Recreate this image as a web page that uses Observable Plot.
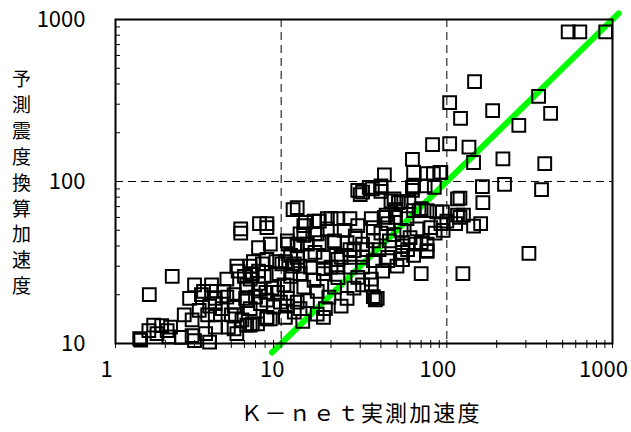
<!DOCTYPE html>
<html>
<head>
<meta charset="utf-8">
<script src="https://cdn.jsdelivr.net/npm/d3@7"></script>
<script src="https://cdn.jsdelivr.net/npm/@observablehq/plot@0.6"></script>
<style>
  html, body { margin: 0; padding: 0; background: #fff; }
  #chart svg { display: block; }
</style>
</head>
<body>
<div id="chart"></div>
<script>
// K-net measured acceleration (x) vs predicted acceleration from seismic intensity (y)
const obs = [
  [540,840],[635,840],[910,840],
  [147,414],[104,307],[189,274],[358,335],[423,263],[121,245],[272,222],
  [104,171],[82,169],[136,163],[145,131],[218,138],[390,129],
  [92,114],[164,93],[223,96],[373,89],[120,79],[165,74],
  [94,65],[126,62],[113,55],[145,53],[160,55],[92,55],[313,36],[125,27],
  [62,137],[42,110],[63,114],[76,112],[83,112],[91,114],[62,92],[40,92],[29,88],[34,92],
  [84,92],[30,83],[40,87],[48,78],[53,75],[59,75],[62,88],
  [87,65],[49,67],[63,66],[70,68],[11.8,67],[14,56],[17,57],[20,59],[26,59],[35,59],[43,62],[100,57],[120,60],
  [5.7,51],[7.4,55],[8.2,55],[5.7,48],[8.2,52],[7.3,39],
  [2.2,26],[5.4,30],[6.5,30],[11,41],[7.7,31],[9.3,32],[10.6,32],[12,31],
  [31,86],[35.5,90],[40,94],[63,94],[74,94],[51,74],[46,76],[68,66],[76,66],[116,78],[116,62],
  [57.5,59],[49,60],[42,60],[22,59],[19,59],[12.5,69],[15.8,57],[13.7,53.5],[13,47.5],[16,47.5],
  [19,51],[24,50],[29,53.5],[36,52],[44,55],[53,50],[66,51],[80,52],[76,41],[65,41],[54,42],
  [45,43],[36,43],[31,41],[25,42],[21,42],[17,42],[14.4,41],[12.5,41],[12.5,34],[15,35],[18,34],
  [22,33],[26,34],[31,34],[36,32.5],[44,34],[54,33],[76,37.5],[31,29.6],[26,29.6],[22,29.6],[18,29],
  [15,29.6],[13,30],
  [13.5,13.7],[18,14.5],[23,17],[37,18.6],[36,19.5],[70,27],[76,37],[63,35],[54,40],[54,36.5],
  [44,32.5],[41,28],[35,23],[29,25.6],[27.5,22],[25,19],[19.4,19.3],[18.5,16.4],[16.5,15.2],
  [12.5,18],[10.6,14.5],[8.6,14.2],[13,16.4],[14.4,18.4],[50,30],[38,19],[35,25],[31,23],[12,15.6],
  [6.8,32],[8.2,33],[10.1,31],[11.4,35],[12.5,40],[16,36.5],[11.7,30],[13,27],[15.8,24.5],[20,29.6],
  [23,34],[27.5,37.5],[21,43],[16.5,47.5],[13.7,46.5],[10.9,43],[8.6,41],[7.3,28],[6,26],[6.2,22],
  [7.5,21.7],[9.5,20.7],[10.9,22.8],[13.7,22.3],[16.5,21],[21,22.3],[22,25.5],[18,27],[10.9,19],
  [9,16.8],[7.5,17.6],[6.2,18.4],[4.7,19.3],[4,17.6],[8.2,14.5],[6.5,13],[5.2,12.3],
  [1.6,20],[3,23],[3.8,23],[4.7,25],[5.5,28],[6.7,27],[7.9,26],[9.7,27],[11.4,26],[6.2,23],
  [7.3,23.5],[8.8,22],[10.4,23],[2.8,19],[3.3,20],[3.8,21],[4.5,21],[5.2,20],[6.1,19],[7,19.3],
  [8.2,18.5],[9.9,18],[3.2,16],[3.7,17],[4.4,16.4],[5.2,17],[2.6,15],[2.9,14],[3.6,15],[4,15],
  [5,15],[5.8,14],[6.7,13.2],[8.2,14.2],[4,12.6],[4.8,12.6],[3.5,11.5],[2.9,11.2],[2.5,10.9],
  [1.4,10.7],[1.7,13],[1.9,12.9],[2.15,12.6],[1.59,12],[2.05,12],[1.78,11.5],[3.7,10.2],[3,10.4],
  [2.1,11],[6.5,16.4],[5.3,15],[5.4,11.5],[6.2,13],[7.2,13.2],[4,19],[3.4,21],[6.5,25],[8.1,20.7],
  [10.9,17],[1.42,10.5],
  [60,45],[70,42],[58,38],[48,47],[85,48],[95,50],[40,48],[28,46],[33,38],[26,38],[39,38]
];

const diagonal = [8.8, 1090];          // 1:1 line extent
const xTickValues = [1, 10, 100, 1000];
const yTickValues = [10, 100, 1000];
const xGrid = [10, 100];
const yGrid = [100];
const minorX = [1,2,3,4,5,6,7,8,9,10,20,30,40,50,60,70,80,90,100,200,300,400,500,600,700,800,900,1000];
const minorY = [10,20,30,40,50,60,70,80,90,100,200,300,400,500,600,700,800,900,1000];
const xTitle = "Ｋ－ｎｅｔ実測加速度";
const yTitle = "予測震度換算加速度";

const W = 631, H = 432, ML = 115, MR = 19, MT = 19, MB = 89;
const FW = W - ML - MR, FH = H - MT - MB;
const font = "'Noto Sans CJK JP', 'Noto Sans', sans-serif";

const chart = Plot.plot({
  width: W, height: H,
  marginLeft: ML, marginRight: MR, marginTop: MT, marginBottom: MB,
  x: {type: "log", domain: [1, 1000]},
  y: {type: "log", domain: [10, 1000]},
  style: {fontFamily: font, background: "white", color: "black", overflow: "visible"},
  marks: [
    Plot.ruleX(xGrid, {x: d => d, stroke: "black", strokeWidth: 1, strokeDasharray: "8,5"}),
    Plot.ruleY(yGrid, {y: d => d, stroke: "black", strokeWidth: 1, strokeDasharray: "8,5"}),
    Plot.line(diagonal, {x: d => d, y: d => d, stroke: "#00ff00", strokeWidth: 6}),
    Plot.dot(obs, {x: d => d[0], y: d => d[1], symbol: "square", r: 7.2, stroke: "black", strokeWidth: 2, fill: "none"}),
    Plot.tickY(minorY, {y: d => d, stroke: "black", strokeWidth: 1, insetRight: FW - 5}),
    Plot.tickX(minorX, {x: d => d, stroke: "black", strokeWidth: 1, insetTop: FH - 3, insetBottom: -5}),
    Plot.frame({stroke: "black", strokeWidth: 2}),
    Plot.axisX({ticks: xTickValues, tickSize: 0, tickPadding: 18, tickFormat: d => String(d), fontSize: 22, dx: -9, label: null}),
    Plot.axisY({ticks: yTickValues, tickSize: 0, tickPadding: 30, tickFormat: d => String(d), fontSize: 22, label: null}),
    Plot.text([yTitle.split("").join("\n")], {frameAnchor: "left", dx: -94, fontSize: 19, lineHeight: 1.36, textAnchor: "middle", fill: "black"}),
    Plot.text([xTitle], {frameAnchor: "bottom", dy: 77, dx: -3, fontSize: 22, textAnchor: "middle", fill: "black"})
  ]
});
document.getElementById("chart").appendChild(chart);
d3.select(chart).selectAll("text")
  .filter(function() { return this.textContent === xTitle; })
  .attr("letter-spacing", "2.1px")
  .style("letter-spacing", "2.1px");
</script>
</body>
</html>
